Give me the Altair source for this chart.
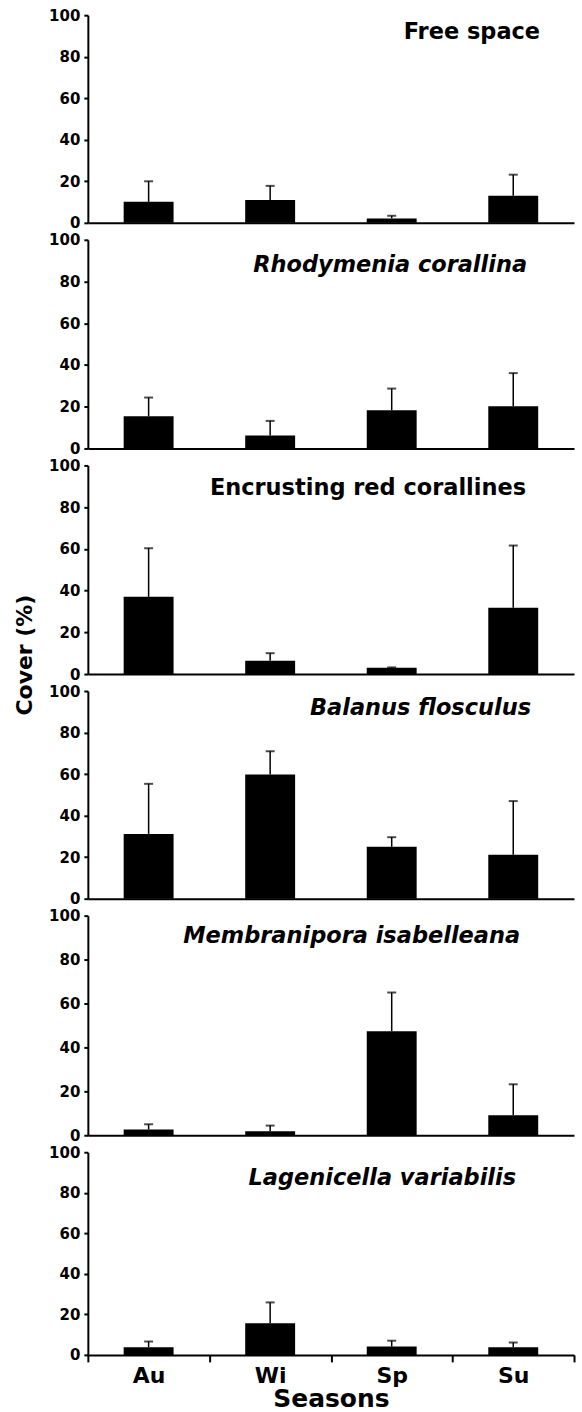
import altair as alt
import pandas as pd

seasons = ["Au", "Wi", "Sp", "Su"]

panel_names = [
    "Free space",
    "Rhodymenia corallina",
    "Encrusting red corallines",
    "Balanus flosculus",
    "Membranipora isabelleana",
    "Lagenicella variabilis",
]
panel_italic = [False, True, False, True, True, True]

# mean cover (%) per season
free_space_mean = [10.1, 11.0, 2.1, 13.1]
rhodymenia_mean = [15.4, 6.2, 18.3, 20.2]
encrusting_mean = [37.0, 6.4, 3.0, 31.8]
balanus_mean = [31.2, 59.8, 25.0, 21.2]
membranipora_mean = [2.6, 1.8, 47.4, 9.1]
lagenicella_mean = [3.8, 15.6, 4.1, 3.8]

# top of error bar (mean + SE)
free_space_upper = [20.0, 17.8, 3.4, 23.2]
rhodymenia_upper = [24.4, 13.2, 28.7, 36.1]
encrusting_upper = [60.3, 10.0, 3.2, 61.6]
balanus_upper = [55.3, 71.0, 29.6, 47.0]
membranipora_upper = [5.0, 4.4, 65.0, 23.2]
lagenicella_upper = [6.6, 25.9, 7.0, 6.1]

means = [free_space_mean, rhodymenia_mean, encrusting_mean,
         balanus_mean, membranipora_mean, lagenicella_mean]
uppers = [free_space_upper, rhodymenia_upper, encrusting_upper,
          balanus_upper, membranipora_upper, lagenicella_upper]

y_ticks = [0, 20, 40, 60, 80, 100]

# layout / style (not data)
panel_heights = [208, 209, 209, 208, 220, 203]
title_right_x = [453, 440, 439, 444, 433, 429]
title_center_y = [17, 25, 23, 17, 20, 26]
PANEL_W = 487
FONT = "DejaVu Sans"


def make_panel(i, bottom):
    df = pd.DataFrame({"season": seasons, "mean": means[i], "upper": uppers[i]})
    if bottom:
        xaxis = alt.Axis(title="Seasons", labelAngle=0, labelAlign="center",
                         labelBaseline="top", tickBand="extent",
                         tickSize=7, tickWidth=2, tickColor="black",
                         domainWidth=2, domainColor="black",
                         labelFont=FONT, labelFontSize=22, labelFontWeight="bold",
                         labelColor="black", labelPadding=4,
                         titleFont=FONT, titleFontSize=25, titleFontWeight="bold",
                         titleColor="black", titlePadding=0)
    else:
        xaxis = alt.Axis(title=None, labels=False, ticks=False,
                         domainWidth=2, domainColor="black")
    x = alt.X("season:N", sort=seasons,
              scale=alt.Scale(paddingInner=0, paddingOuter=0), axis=xaxis)
    xs = alt.X("season:N", sort=seasons)
    y = alt.Y("mean:Q", scale=alt.Scale(domain=[0, 100], nice=False),
              axis=alt.Axis(title=None, values=y_ticks, grid=False,
                            tickSize=4, tickWidth=2, tickColor="black",
                            domainWidth=2, domainColor="black",
                            labelFont=FONT, labelFontSize=15, labelFontWeight="bold",
                            labelColor="black", labelPadding=4))
    base = alt.Chart(df)
    err = base.mark_rule(color="black", strokeWidth=1.5).encode(
        x=xs, y=alt.Y("mean:Q"), y2="upper:Q")
    cap = base.mark_tick(color="black", thickness=2, size=9).encode(
        x=xs, y=alt.Y("upper:Q"))
    bars = base.mark_bar(size=50, color="black").encode(x=x, y=y)
    tdf = pd.DataFrame({"t": [panel_names[i]]})
    title = alt.Chart(tdf).mark_text(
        font=FONT, fontSize=22.5, fontWeight="bold",
        fontStyle="italic" if panel_italic[i] else "normal",
        align="right", baseline="middle", color="black",
    ).encode(x=alt.value(title_right_x[i]), y=alt.value(title_center_y[i]), text="t:N")
    layers = [err, cap, bars, title]
    if i == 2:
        ydf = pd.DataFrame({"t": ["Cover (%)"]})
        ytitle = alt.Chart(ydf).mark_text(
            font=FONT, fontSize=22, fontWeight="bold", angle=270,
            align="center", baseline="middle", color="black",
        ).encode(x=alt.value(-63), y=alt.value(190), text="t:N")
        layers.append(ytitle)
    return alt.layer(*layers).properties(width=PANEL_W, height=panel_heights[i])


panels = [make_panel(i, i == 5) for i in range(6)]

chart = alt.vconcat(*panels, spacing=17, bounds="flush").properties(
    padding={"left": 14, "top": 7, "right": 7, "bottom": 0},
    background="white",
).configure_view(stroke=None)

chart.save("out.html", embed_options={"renderer": "svg", "actions": False})
